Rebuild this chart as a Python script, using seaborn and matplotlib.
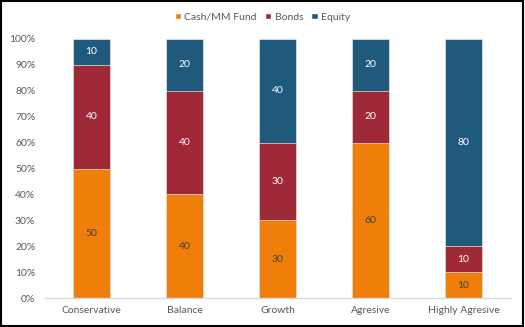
import matplotlib
matplotlib.use("Agg")
import matplotlib.pyplot as plt
import seaborn as sns
import pandas as pd
from matplotlib.patches import Patch, Rectangle

categories = ["Conservative", "Balance", "Growth", "Agresive", "Highly Agresive"]
cash = [50, 40, 30, 60, 10]
bonds = [40, 40, 30, 20, 10]
equity = [10, 20, 40, 20, 80]
series_names = ["Cash/MM Fund", "Bonds", "Equity"]
colors = ["#F07F09", "#9F2936", "#1F5A7D"]

sns.set_theme(style="white")
plt.rcParams["font.family"] = ["Lato", "DejaVu Sans"]

df = pd.DataFrame({"cat": categories, "cash": cash, "bonds": bonds, "equity": equity})
df["cum_cash"] = df["cash"]
df["cum_bonds"] = df["cash"] + df["bonds"]
df["cum_equity"] = df["cum_bonds"] + df["equity"]

fig = plt.figure(figsize=(5.25, 3.27), dpi=100)
ax = fig.add_axes([45/525, 1-298/327, 465/525, (298-39)/327])

w = 0.4
edge = dict(edgecolor="#E8E8E8", linewidth=0.5)
sns.barplot(data=df, x="cat", y="cum_equity", color=colors[2], width=w, ax=ax, saturation=1, **edge)
sns.barplot(data=df, x="cat", y="cum_bonds", color=colors[1], width=w, ax=ax, saturation=1, **edge)
sns.barplot(data=df, x="cat", y="cum_cash", color=colors[0], width=w, ax=ax, saturation=1, **edge)

for i in range(len(categories)):
    ax.text(i, cash[i]/2, str(cash[i]), ha="center", va="center", fontsize=7.5, color="#404040")
    ax.text(i, cash[i] + bonds[i]/2, str(bonds[i]), ha="center", va="center", fontsize=7.5, color="white")
    ax.text(i, cash[i] + bonds[i] + equity[i]/2, str(equity[i]), ha="center", va="center", fontsize=7.5, color="white")

ax.set_xlim(-0.5, 4.5)
ax.set_ylim(0, 100)
ax.set_yticks(range(0, 101, 10))
ax.set_yticklabels([f"{v}%" for v in range(0, 101, 10)])
ax.tick_params(axis="both", labelsize=7.5, colors="#595959", length=0, pad=6)
ax.tick_params(axis="y", pad=7)
ax.set_xlabel("")
ax.set_ylabel("")
for s in ["top", "right", "left"]:
    ax.spines[s].set_visible(False)
ax.spines["bottom"].set_color("#D9D9D9")
ax.spines["bottom"].set_linewidth(1)
ax.grid(False)

handles = [Patch(facecolor=c, label=n) for c, n in zip(colors, series_names)]
fig.legend(handles=handles, loc="center", bbox_to_anchor=(0.5, 1-17/327), ncol=3, frameon=False,
           fontsize=7.5, handlelength=0.6, handleheight=0.6, handletextpad=0.3, columnspacing=0.8,
           labelcolor="#595959")

fig.patches.append(Rectangle((0.002, 0.003), 0.995, 0.994, transform=fig.transFigure,
                             fill=False, edgecolor="black", linewidth=1.5))

fig.savefig("out.png", dpi=100)
